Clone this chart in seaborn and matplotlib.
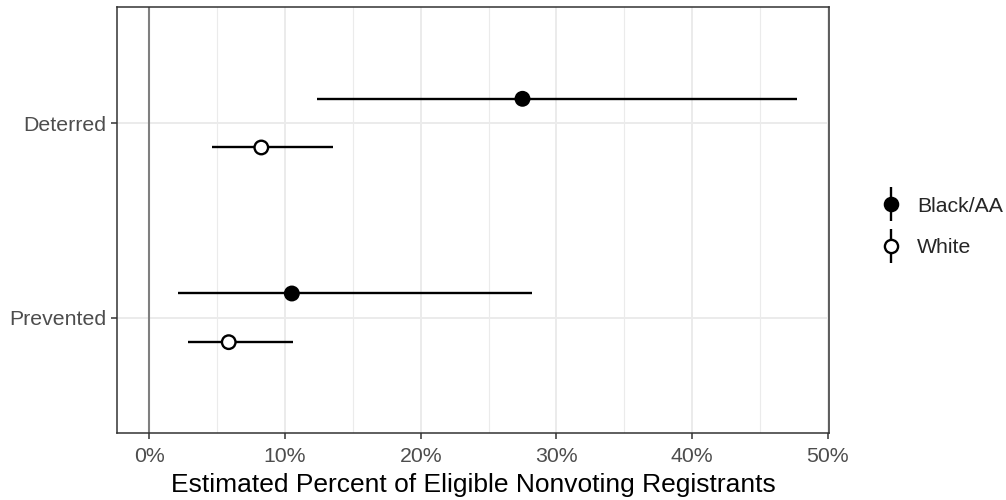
import numpy as np
import pandas as pd
import matplotlib
matplotlib.use("Agg")
import matplotlib.pyplot as plt
from matplotlib.lines import Line2D
from matplotlib.legend_handler import HandlerTuple
from matplotlib.ticker import FuncFormatter, MultipleLocator
import seaborn as sns

# datos (porcentajes)
categorias = ["Deterred", "Prevented"]
grupos = ["Black/AA", "White"]
estimacion_black = [27.5, 10.5]
bajo_black = [12.35, 2.1]
alto_black = [47.7, 28.2]
estimacion_white = [8.25, 5.85]
bajo_white = [4.6, 2.85]
alto_white = [13.5, 10.6]

df = pd.DataFrame({
    "categoria": categorias * 2,
    "grupo": [grupos[0]] * 2 + [grupos[1]] * 2,
    "est": estimacion_black + estimacion_white,
    "lo": bajo_black + bajo_white,
    "hi": alto_black + alto_white,
})

# posicion vertical con desplazamiento (dodge) por grupo
desplaz = {"Black/AA": -0.125, "White": 0.125}
df["y"] = df["categoria"].map({c: i for i, c in enumerate(categorias)}) + df["grupo"].map(desplaz)

sns.set_style("white")
plt.rcParams["font.family"] = ["Liberation Sans", "DejaVu Sans"]

fig = plt.figure(figsize=(10.06, 5), dpi=100)
ax = fig.add_axes([0.1163, 0.1346, 0.824 - 0.1163, 0.985 - 0.1346])

# cuadricula estilo theme_bw
ax.xaxis.set_major_locator(MultipleLocator(10))
ax.xaxis.set_minor_locator(MultipleLocator(5))
ax.grid(which="major", axis="x", color="#EBEBEB", lw=1.4, zorder=0)
ax.grid(which="minor", axis="x", color="#EBEBEB", lw=0.8, zorder=0)
ax.set_yticks(range(len(categorias)))
ax.grid(which="major", axis="y", color="#EBEBEB", lw=1.4, zorder=0)

ax.axvline(0, color="#7F7F7F", lw=1.5, zorder=1)

# intervalos
ax.hlines(df["y"], df["lo"], df["hi"], color="black", lw=1.7, zorder=2)

# puntos
sns.scatterplot(data=df, x="est", y="y", hue="grupo", style="grupo",
                palette={"Black/AA": "black", "White": "white"},
                markers={"Black/AA": "o", "White": "o"},
                s=95, edgecolor="black", linewidth=1.7, legend=False,
                zorder=3, ax=ax)

ax.set_xlim(-2.385, 50.085)
ax.set_ylim(1.59, -0.594)
ax.set_yticklabels(categorias)
ax.xaxis.set_major_formatter(FuncFormatter(lambda v, p: f"{v:.0f}%"))
ax.set_xlabel("Estimated Percent of Eligible Nonvoting Registrants", fontsize=19, color="black", labelpad=5)
ax.set_ylabel("")

ax.tick_params(axis="both", which="major", labelsize=15.3, labelcolor="#4D4D4D",
               color="#333333", length=4.5, width=1.1, direction="out", pad=3,
               bottom=True, left=True)
ax.tick_params(axis="x", which="major", pad=5.5)
ax.tick_params(axis="x", which="minor", length=0)
for s in ax.spines.values():
    s.set_color("#333333")
    s.set_linewidth(1.1)

# leyenda con glifo de pointrange
handles = []
for g in grupos:
    barra = Line2D([], [], marker="|", markersize=24, markeredgewidth=1.7, color="black", linestyle="None")
    punto = Line2D([], [], marker="o", markersize=9.5, markerfacecolor="black" if g == "Black/AA" else "white",
                   markeredgecolor="black", markeredgewidth=1.7, linestyle="None")
    handles.append((barra, punto))
fig.legend(handles, grupos, handler_map={tuple: HandlerTuple(ndivide=1, pad=0)},
           loc="center left", bbox_to_anchor=(0.8565, 0.546), frameon=False, numpoints=1,
           fontsize=15.3, handlelength=1.0, handletextpad=0.72, labelspacing=1.05)

fig.savefig("out.png", dpi=100)
